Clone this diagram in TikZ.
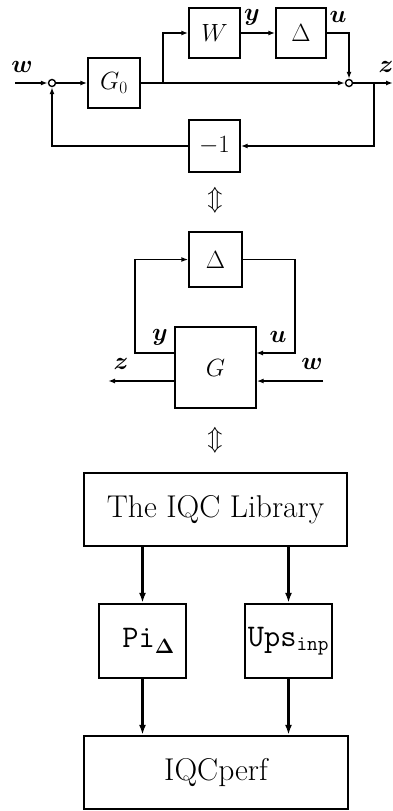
\documentclass[tikz,border=0pt]{standalone}
\usepackage{bm}
\usetikzlibrary{arrows.meta}
\begin{document}
\begin{tikzpicture}[x=1pt,y=-1pt,
  thin line/.style={line width=1.4pt},
  thick line/.style={line width=2.3pt},
  sig/.style={thin line,-{Latex[length=7pt,width=5pt]}},
  flow/.style={thick line,-{Latex[length=10pt,width=7pt]}},
  blk/.style={draw,thin line,inner sep=0pt,font=\fontsize{25}{29}\selectfont},
  bigblk/.style={blk,font=\fontsize{27}{31}\selectfont},
  libblk/.style={draw,thick line,inner sep=0pt,font=\fontsize{31.5}{36}\selectfont},
  junction/.style={draw,thin line,circle,minimum size=7pt,inner sep=0pt,fill=white},
  lbl/.style={inner sep=0pt,font=\fontsize{25}{29}\selectfont},
  equiv/.style={inner sep=0pt,font=\fontsize{34}{38}\selectfont}]
\useasboundingbox (0,0) rectangle (393,811);

% ---- feedback loop with weighted uncertainty ----
\node[junction] (sumA) at (52,83) {};
\node[blk,minimum width=52pt,minimum height=50pt] (G0) at (114,83) {$G_0$};
\node[blk,minimum width=51pt,minimum height=50pt] (W) at (214.5,33) {$W$};
\node[blk,minimum width=50pt,minimum height=50pt] (D1) at (301,33) {$\Delta$};
\node[junction] (sumB) at (349,83) {};
\node[blk,minimum width=51pt,minimum height=52pt] (neg) at (214.5,146) {$-1$};
\coordinate (win) at (15,83);
\coordinate (zout) at (393,83);
\coordinate (br1) at (163,83);
\coordinate (br2) at (374,83);

\draw[sig] (win) -- (sumA);
\draw[sig] (sumA) -- (G0);
\draw[sig] (G0) -- (sumB);
\draw[sig] (br1) |- (W);
\draw[sig] (W) -- (D1);
\draw[sig] (D1.east) -| (sumB);
\draw[sig] (sumB) -- (zout);
\draw[sig] (br2) |- (neg);
\draw[sig] (neg) -| (sumA);

\node[lbl] (lw1) at (22,67) {$\bm{w}$};
\node[lbl] (ly1) at (252,17) {$\bm{y}$};
\node[lbl] (lu1) at (338,17) {$\bm{u}$};
\node[lbl] (lz1) at (386,67) {$\bm{z}$};

\node[equiv] (eq1) at (215,200) {$\Updownarrow$};

% ---- standard interconnection ----
\node[blk,minimum width=53pt,minimum height=55pt] (D2) at (215.5,259.5) {$\Delta$};
\node[bigblk,minimum width=81pt,minimum height=81pt] (G) at (215.5,367.5) {$G$};
\coordinate (yl) at (175,353);
\coordinate (ul) at (256,353);
\coordinate (zl) at (108,381);
\coordinate (wr) at (323,381);
\draw[sig] (yl) -- (135,353) |- (D2);
\draw[sig] (D2) -- (295,259.5) |- (ul);
\draw[sig] (G.west |- zl) -- (zl);
\draw[sig] (wr) -- (G.east |- wr);

\node[lbl] (ly2) at (160,337) {$\bm{y}$};
\node[lbl] (lu2) at (278,337) {$\bm{u}$};
\node[lbl] (lz2) at (121,364) {$\bm{z}$};
\node[lbl] (lw2) at (312,364) {$\bm{w}$};

\node[equiv] (eq2) at (215,440) {$\Updownarrow$};

% ---- software structure ----
\node[libblk,minimum width=263pt,minimum height=73pt] (lib) at (215.5,509.5) {The IQC Library};
\node[libblk,minimum width=87pt,minimum height=74pt] (pi) at (142.5,641) {\hspace*{12pt}\texttt{Pi}$_{\bm{\Delta}}$};
\node[libblk,minimum width=87pt,minimum height=74pt] (ups) at (288.5,641) {\texttt{Ups}$_{\mathtt{inp}}$};
\node[libblk,minimum width=264pt,minimum height=73pt] (perf) at (216,772.5) {IQCperf};

\draw[flow] (lib.south -| pi) -- (pi.north);
\draw[flow] (lib.south -| ups) -- (ups.north);
\draw[flow] (pi.south) -- (pi.south |- perf.north);
\draw[flow] (ups.south) -- (ups.south |- perf.north);
\end{tikzpicture}
\end{document}
